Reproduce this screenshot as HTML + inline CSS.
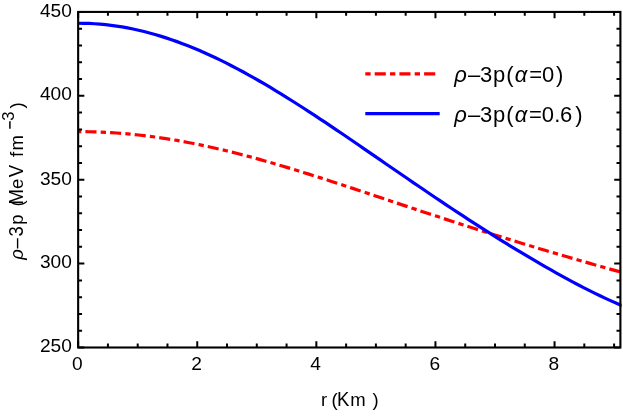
<!DOCTYPE html>
<html><head><meta charset="utf-8"><title>plot</title>
<style>
html,body{margin:0;padding:0;background:#fff;}
body{width:623px;height:416px;overflow:hidden;}
svg{display:block;will-change:transform;}
text{font-family:"Liberation Sans",sans-serif;fill:#000;}
.tk{font-size:19.15px;}
.ax{font-size:19.8px;}
.lg{font-size:22.0px;}
.it{font-style:italic;}
</style></head><body>
<svg width="623" height="416" viewBox="0 0 623 416">
<rect x="0" y="0" width="623" height="416" fill="#fff"/>
<defs><clipPath id="cp"><rect x="78.15" y="11.93" width="543.45" height="335.57"/></clipPath></defs>
<g clip-path="url(#cp)" fill="none" stroke-width="3.2">
<path d="M78.10,131.62 L83.59,131.64 L89.09,131.73 L94.58,131.87 L100.08,132.06 L105.57,132.32 L111.06,132.62 L116.56,132.98 L122.05,133.40 L127.55,133.87 L133.04,134.40 L138.53,134.98 L144.03,135.61 L149.52,136.29 L155.02,137.02 L160.51,137.81 L166.00,138.64 L171.50,139.52 L176.99,140.45 L182.48,141.43 L187.98,142.45 L193.47,143.52 L198.97,144.63 L204.46,145.79 L209.95,146.98 L215.45,148.22 L220.94,149.50 L226.44,150.81 L231.93,152.16 L237.42,153.54 L242.92,154.96 L248.41,156.41 L253.91,157.90 L259.40,159.41 L264.89,160.95 L270.39,162.52 L275.88,164.11 L281.38,165.73 L286.87,167.38 L292.36,169.04 L297.86,170.72 L303.35,172.43 L308.85,174.15 L314.34,175.88 L319.83,177.63 L325.33,179.40 L330.82,181.18 L336.32,182.97 L341.81,184.76 L347.30,186.57 L352.80,188.38 L358.29,190.20 L363.78,192.03 L369.28,193.86 L374.77,195.69 L380.27,197.52 L385.76,199.36 L391.25,201.19 L396.75,203.03 L402.24,204.86 L407.74,206.69 L413.23,208.52 L418.72,210.34 L424.22,212.16 L429.71,213.97 L435.21,215.78 L440.70,217.58 L446.19,219.38 L451.69,221.17 L457.18,222.95 L462.68,224.72 L468.17,226.48 L473.66,228.24 L479.16,229.99 L484.65,231.73 L490.15,233.46 L495.64,235.19 L501.13,236.90 L506.63,238.61 L512.12,240.30 L517.62,241.99 L523.11,243.67 L528.60,245.34 L534.10,247.01 L539.59,248.66 L545.08,250.31 L550.58,251.94 L556.07,253.57 L561.57,255.19 L567.06,256.80 L572.55,258.41 L578.05,260.00 L583.54,261.58 L589.04,263.16 L594.53,264.72 L600.02,266.27 L605.52,267.81 L611.01,269.34 L616.51,270.85 L622.00,272.35" stroke="#ff0000" stroke-dasharray="5.3 4.1 11.1 4.2" stroke-dashoffset="2.1"/>
<path d="M78.10,23.23 L83.59,23.28 L89.09,23.46 L94.58,23.75 L100.08,24.16 L105.57,24.68 L111.06,25.32 L116.56,26.08 L122.05,26.94 L127.55,27.93 L133.04,29.02 L138.53,30.22 L144.03,31.53 L149.52,32.95 L155.02,34.48 L160.51,36.11 L166.00,37.85 L171.50,39.68 L176.99,41.62 L182.48,43.65 L187.98,45.78 L193.47,48.00 L198.97,50.31 L204.46,52.71 L209.95,55.20 L215.45,57.77 L220.94,60.42 L226.44,63.15 L231.93,65.95 L237.42,68.83 L242.92,71.77 L248.41,74.79 L253.91,77.87 L259.40,81.01 L264.89,84.21 L270.39,87.46 L275.88,90.77 L281.38,94.13 L286.87,97.54 L292.36,100.99 L297.86,104.48 L303.35,108.01 L308.85,111.57 L314.34,115.17 L319.83,118.80 L325.33,122.45 L330.82,126.13 L336.32,129.83 L341.81,133.55 L347.30,137.29 L352.80,141.04 L358.29,144.80 L363.78,148.57 L369.28,152.35 L374.77,156.13 L380.27,159.92 L385.76,163.70 L391.25,167.49 L396.75,171.26 L402.24,175.04 L407.74,178.80 L413.23,182.56 L418.72,186.30 L424.22,190.04 L429.71,193.76 L435.21,197.46 L440.70,201.15 L446.19,204.82 L451.69,208.47 L457.18,212.10 L462.68,215.70 L468.17,219.29 L473.66,222.85 L479.16,226.39 L484.65,229.90 L490.15,233.39 L495.64,236.85 L501.13,240.28 L506.63,243.68 L512.12,247.05 L517.62,250.39 L523.11,253.70 L528.60,256.98 L534.10,260.22 L539.59,263.42 L545.08,266.59 L550.58,269.72 L556.07,272.81 L561.57,275.85 L567.06,278.85 L572.55,281.81 L578.05,284.71 L583.54,287.56 L589.04,290.35 L594.53,293.09 L600.02,295.76 L605.52,298.36 L611.01,300.88 L616.51,303.33 L622.00,305.69" stroke="#0000ff"/>
</g>
<path d="M78.15,347.5v-6.2 M78.15,11.93v6.2 M107.93,347.5v-3.9 M107.93,11.93v3.9 M137.70,347.5v-3.9 M137.70,11.93v3.9 M167.47,347.5v-3.9 M167.47,11.93v3.9 M197.25,347.5v-6.2 M197.25,11.93v6.2 M227.03,347.5v-3.9 M227.03,11.93v3.9 M256.80,347.5v-3.9 M256.80,11.93v3.9 M286.57,347.5v-3.9 M286.57,11.93v3.9 M316.35,347.5v-6.2 M316.35,11.93v6.2 M346.12,347.5v-3.9 M346.12,11.93v3.9 M375.90,347.5v-3.9 M375.90,11.93v3.9 M405.67,347.5v-3.9 M405.67,11.93v3.9 M435.45,347.5v-6.2 M435.45,11.93v6.2 M465.23,347.5v-3.9 M465.23,11.93v3.9 M495.00,347.5v-3.9 M495.00,11.93v3.9 M524.77,347.5v-3.9 M524.77,11.93v3.9 M554.55,347.5v-6.2 M554.55,11.93v6.2 M584.32,347.5v-3.9 M584.32,11.93v3.9 M614.10,347.5v-3.9 M614.10,11.93v3.9 M78.15,347.50h6.2 M620.4,347.50h-6.2 M78.15,330.72h3.9 M620.4,330.72h-3.9 M78.15,313.94h3.9 M620.4,313.94h-3.9 M78.15,297.16h3.9 M620.4,297.16h-3.9 M78.15,280.39h3.9 M620.4,280.39h-3.9 M78.15,263.61h6.2 M620.4,263.61h-6.2 M78.15,246.83h3.9 M620.4,246.83h-3.9 M78.15,230.05h3.9 M620.4,230.05h-3.9 M78.15,213.27h3.9 M620.4,213.27h-3.9 M78.15,196.49h3.9 M620.4,196.49h-3.9 M78.15,179.72h6.2 M620.4,179.72h-6.2 M78.15,162.94h3.9 M620.4,162.94h-3.9 M78.15,146.16h3.9 M620.4,146.16h-3.9 M78.15,129.38h3.9 M620.4,129.38h-3.9 M78.15,112.60h3.9 M620.4,112.60h-3.9 M78.15,95.82h6.2 M620.4,95.82h-6.2 M78.15,79.04h3.9 M620.4,79.04h-3.9 M78.15,62.27h3.9 M620.4,62.27h-3.9 M78.15,45.49h3.9 M620.4,45.49h-3.9 M78.15,28.71h3.9 M620.4,28.71h-3.9 M78.15,11.93h6.2 M620.4,11.93h-6.2" stroke="#000" stroke-width="2.0" fill="none"/>
<rect x="78.15" y="11.93" width="542.25" height="335.57" fill="none" stroke="#000" stroke-width="2.1"/>
<text class="tk" x="71.9" y="352" text-anchor="end">250</text>
<text class="tk" x="71.9" y="268" text-anchor="end">300</text>
<text class="tk" x="71.9" y="185" text-anchor="end">350</text>
<text class="tk" x="71.9" y="100" text-anchor="end">400</text>
<text class="tk" x="71.9" y="17" text-anchor="end">450</text>
<text class="tk" x="77.45" y="370" text-anchor="middle">0</text>
<text class="tk" x="196.55" y="370" text-anchor="middle">2</text>
<text class="tk" x="315.65" y="370" text-anchor="middle">4</text>
<text class="tk" x="434.75" y="370" text-anchor="middle">6</text>
<text class="tk" x="553.85" y="370" text-anchor="middle">8</text>
<text transform="translate(321.1,406.2) scale(1.0165,1)" style="font-size:18.2px">r</text>
<text transform="translate(331.4,406.2) scale(0.9737,1)" style="font-size:19.0px">(</text>
<text transform="translate(336.9,406.2) scale(0.9439,1)" style="font-size:19.6px">K</text>
<text transform="translate(350.2,406.2) scale(1.0165,1)" style="font-size:18.2px">m</text>
<text transform="translate(372.6,406.2) scale(0.9737,1)" style="font-size:19.0px">)</text>
<text class="ax it" transform="translate(22.50,259.70) rotate(-90) scale(1.0165,1)" style="font-size:18.2px">ρ</text>
<text class="ax" transform="translate(22.50,248.60) rotate(-90) scale(0.9536,1)" style="font-size:19.4px">–</text>
<text class="ax" transform="translate(22.50,236.60) rotate(-90) scale(0.9536,1)" style="font-size:19.4px">3</text>
<text class="ax" transform="translate(22.50,224.70) rotate(-90) scale(1.0165,1)" style="font-size:18.2px">p</text>
<text class="ax" transform="translate(22.50,206.60) rotate(-90) scale(0.9737,1)" style="font-size:19.0px">(</text>
<text class="ax" transform="translate(22.50,204.50) rotate(-90) scale(0.9439,1)" style="font-size:19.6px">M</text>
<text class="ax" transform="translate(22.50,189.10) rotate(-90) scale(1.0165,1)" style="font-size:18.2px">e</text>
<text class="ax" transform="translate(22.50,177.30) rotate(-90) scale(0.9439,1)" style="font-size:19.6px">V</text>
<text class="ax" transform="translate(22.50,157.00) rotate(-90) scale(1.0165,1)" style="font-size:18.2px">f</text>
<text class="ax" transform="translate(22.50,150.40) rotate(-90) scale(1.0165,1)" style="font-size:18.2px">m</text>
<path d="M9.9,121.3V128.8" stroke="#000" stroke-width="1.5" fill="none"/>
<text class="ax" transform="translate(13.80,120.80) rotate(-90) scale(1.0000,1)" style="font-size:16.5px">3</text>
<text class="ax" transform="translate(22.50,108.55) rotate(-90) scale(0.9737,1)" style="font-size:19.0px">)</text>
<path d="M365.3,73.9H436" stroke="#ff0000" stroke-width="3.2" stroke-dasharray="5.3 4.1 11.1 4.2" fill="none"/>
<path d="M365.3,113.7H439.7" stroke="#0000ff" stroke-width="3.2" fill="none"/>
<text class="lg" y="82.2"><tspan class="it" x="454.2">ρ</tspan><tspan x="467.95 480.0 492.9 506.2">–3p(</tspan><tspan class="it" x="514.8">α</tspan><tspan x="529.2 541.9 556.1">=0)</tspan></text>
<text class="lg" y="122.0"><tspan class="it" x="454.2">ρ</tspan><tspan x="467.95 480.0 492.9 506.2">–3p(</tspan><tspan class="it" x="514.8">α</tspan><tspan x="529.0 541.8 554.35 559.9 575.3">=0.6)</tspan></text>
</svg>
</body></html>
